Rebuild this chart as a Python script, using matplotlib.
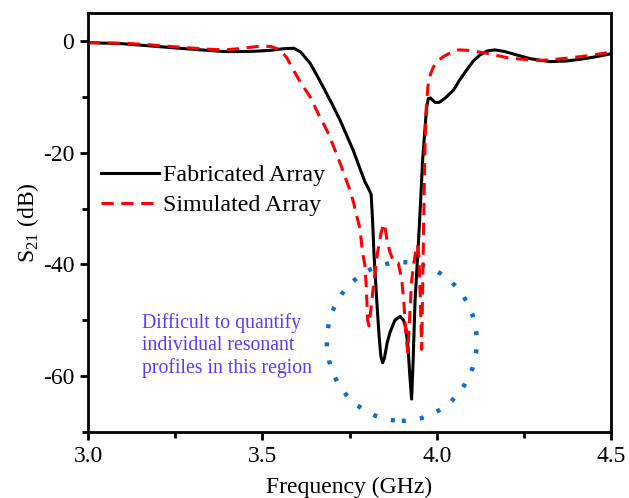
import matplotlib
matplotlib.use("Agg")
import matplotlib.pyplot as plt
from matplotlib.patches import Ellipse
from matplotlib.ticker import MultipleLocator, FormatStrFormatter

plt.rcParams['font.family'] = ['Liberation Serif', 'DejaVu Serif']
plt.rcParams['axes.unicode_minus'] = False
plt.rcParams['mathtext.fontset'] = 'custom'
plt.rcParams['mathtext.rm'] = 'Liberation Serif'

# Measured transmission (fabricated array)
fab_freq = [3.00, 3.10, 3.18, 3.28, 3.39, 3.46, 3.52, 3.56, 3.59, 3.61, 3.637,
            3.655, 3.674, 3.70, 3.723, 3.76, 3.794, 3.805, 3.812, 3.816, 3.820,
            3.828, 3.835, 3.840, 3.845, 3.850, 3.858, 3.866, 3.880, 3.895,
            3.905, 3.912, 3.918, 3.923, 3.928, 3.932, 3.938, 3.944, 3.949,
            3.954, 3.960, 3.966, 3.971, 3.976, 3.982, 3.995, 4.007, 4.025,
            4.048, 4.066, 4.086, 4.105, 4.124, 4.145, 4.167, 4.195, 4.229,
            4.27, 4.325, 4.37, 4.41, 4.45, 4.50]
fab_s21 = [-0.3, -0.5, -0.9, -1.4, -1.9, -1.9, -1.7, -1.4, -1.3, -2.0, -4.0,
           -6.0, -8.2, -11.3, -14.2, -19.5, -25.2, -26.5, -27.5, -32.0, -38.0,
           -46.4, -53.0, -56.5, -57.6, -56.8, -54.0, -52.2, -50.0, -49.3,
           -50.0, -51.5, -55.0, -60.0, -64.1, -58.0, -46.4, -40.0, -34.5,
           -28.5, -21.0, -16.0, -12.0, -10.3, -10.2, -11.0, -11.0, -10.2,
           -8.8, -7.0, -5.2, -3.6, -2.5, -1.8, -1.6, -1.9, -2.5,
           -3.2, -3.7, -3.6, -3.3, -2.9, -2.3]

# Full-wave simulation of the same array
sim_freq = [3.00, 3.10, 3.18, 3.28, 3.35, 3.393, 3.43, 3.47, 3.50, 3.525,
            3.551, 3.57, 3.589, 3.61, 3.637, 3.66, 3.685, 3.705, 3.723, 3.751,
            3.761, 3.77, 3.78, 3.787, 3.794, 3.798, 3.802, 3.806, 3.811, 3.82,
            3.83, 3.84, 3.848, 3.851, 3.857, 3.866, 3.876, 3.89, 3.895, 3.90,
            3.906, 3.912, 3.917, 3.922, 3.928, 3.933, 3.940, 3.945, 3.949,
            3.953, 3.957, 3.962, 3.966, 3.970, 3.975, 3.982, 3.99, 4.005,
            4.019, 4.04, 4.062, 4.095, 4.143, 4.21, 4.296, 4.373, 4.44, 4.50]
sim_s21 = [-0.3, -0.4, -0.7, -1.2, -1.5, -1.6, -1.4, -1.1, -0.9, -1.0,
           -1.6, -3.0, -5.2, -7.5, -10.0, -13.0, -16.0, -19.0, -21.9, -26.7,
           -28.8, -31.2, -33.6, -37.8, -40.1, -44.0, -50.0, -51.0, -48.2, -43.0,
           -38.0, -34.5, -32.7, -33.0, -35.5, -37.8, -39.5, -39.8, -41.3, -42.8,
           -47.0, -53.0, -55.7, -50.0, -43.0, -40.5, -37.5, -36.5, -38.7,
           -46.0, -55.2, -35.0, -20.0, -12.0, -8.0, -6.0, -4.7, -3.5,
           -2.8, -2.1, -1.6, -1.7, -2.2, -3.1, -3.5, -3.1, -2.6, -2.0]

series_labels = ["Fabricated Array", "Simulated Array"]
note_text = "Difficult to quantify\nindividual resonant\nprofiles in this region"

fig = plt.figure(figsize=(6.29, 4.98), dpi=100)
ax = fig.add_axes([0.14, 0.1325, 0.8314, 0.8414])

ax.plot(fab_freq, fab_s21, color='black', lw=2.2, label=series_labels[0],
        solid_joinstyle='round')
ax.plot(sim_freq, sim_s21, color='#ff0000', lw=2.2, ls=(0, (4, 2.5)),
        label=series_labels[1])

# Dotted circle marking the overlapping resonances
ring = Ellipse((3.90, -53.8), width=0.43, height=28.4, fill=False,
               edgecolor='#0a6ecf', lw=3.2, ls=(0, (0.9, 3.2)))
ax.add_patch(ring)

ax.text(3.155, -54.5, note_text, color='#5a3cf5', fontsize=14.2,
        ha='left', va='center', linespacing=1.22)

ax.set_xlim(3.0, 4.5)
ax.set_ylim(-70, 5)
ax.xaxis.set_major_locator(MultipleLocator(0.5))
ax.xaxis.set_minor_locator(MultipleLocator(0.25))
ax.yaxis.set_major_locator(MultipleLocator(20))
ax.yaxis.set_minor_locator(MultipleLocator(10))
ax.xaxis.set_major_formatter(FormatStrFormatter('%.1f'))

for s in ax.spines.values():
    s.set_linewidth(2.0)
ax.tick_params(which='major', direction='out', length=6, width=2,
               labelsize=17, pad=4)
ax.tick_params(which='minor', direction='out', length=4, width=2)

ax.set_xlabel("Frequency (GHz)", fontsize=17, labelpad=7)
ax.set_ylabel(r"S$_{21}$ (dB)", fontsize=17, labelpad=1)

leg = ax.legend(loc='upper left', bbox_to_anchor=(0.0, 0.67), frameon=False,
                fontsize=17.3, handlelength=2.4, handletextpad=0.15,
                labelspacing=0.33, borderaxespad=0.15)

fig.savefig("out.png", dpi=100)
